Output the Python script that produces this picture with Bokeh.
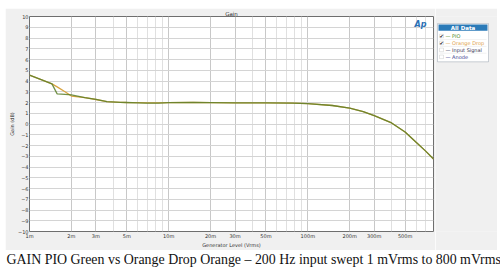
from bokeh.plotting import figure
from bokeh.layouts import column, row
from bokeh.models import (FixedTicker, Label, BoxAnnotation, Range1d,
                          CustomJSTickFormatter)
from bokeh.embed import file_html
from bokeh.resources import INLINE

# ---- data (generator level in mVrms, gain in dB) ----
level_mV = [1, 1.2, 1.45, 1.58, 1.8, 2, 2.5, 3, 3.6, 4.5, 5, 6, 7, 8.5, 10,
            15, 20, 30, 50, 78, 100, 150, 200, 250, 300, 400, 500, 600, 700, 800]
gain_pio = [4.55, 4.15, 3.73, 2.8, 2.75, 2.7, 2.45, 2.3, 2.08, 2.02, 2.0, 1.97, 1.94, 1.95, 1.99,
            2.0, 1.99, 1.97, 1.96, 1.95, 1.9, 1.72, 1.48, 1.15, 0.78, 0.1, -0.75, -1.7, -2.5, -3.25]
gain_od = [4.55, 4.15, 3.73, 3.45, 3.0, 2.6, 2.45, 2.28, 2.08, 2.02, 2.0, 1.98, 1.96, 1.96, 1.98,
           2.0, 1.99, 1.97, 1.96, 1.95, 1.9, 1.72, 1.48, 1.15, 0.78, 0.1, -0.75, -1.7, -2.5, -3.25]

x_major = [1, 2, 3, 5, 10, 20, 30, 50, 100, 200, 300, 500]
x_minor = [4, 6, 7, 8, 9, 40, 60, 70, 80, 90, 400, 600, 700, 800]
y_ticks = list(range(-10, 11))

legend_names = ["PIO", "Orange Drop", "Input Signal", "Anode"]
legend_colors = ["#4f8a2b", "#e0a04a", "#333355", "#3a3a8c"]
legend_checked = [True, True, False, False]

caption = "GAIN PIO Green vs Orange Drop Orange \u2013 200 Hz input swept 1 mVrms to 800 mVrms"

GREEN = "#5a7f2a"
ORANGE = "#d9a441"
PANEL = "#f0f0f0"
FONT = "DejaVu Sans"

# ---------------- main chart ----------------
p = figure(width=430, height=242, x_axis_type="log", output_backend="svg",
           toolbar_location=None, x_range=Range1d(1, 800), y_range=Range1d(-10, 10),
           min_border_left=17, min_border_right=2, min_border_top=8, min_border_bottom=14)
p.border_fill_color = PANEL
p.background_fill_color = "white"
p.outline_line_color = "#6e6e6e"
p.outline_line_width = 1

p.title.text = "Gain"
p.title.align = "center"
p.title.text_font = FONT
p.title.text_font_size = "5.5px"
p.title.text_font_style = "normal"
p.title.text_color = "#333333"
p.title.standoff = 0
p.title.offset = 0

p.xaxis.ticker = FixedTicker(ticks=x_major, minor_ticks=x_minor)
p.xaxis.formatter = CustomJSTickFormatter(code="return tick + 'm';")
p.yaxis.ticker = FixedTicker(ticks=y_ticks)
for ax in (p.xaxis[0], p.yaxis[0]):
    ax.axis_line_color = None
    ax.major_tick_line_color = None
    ax.minor_tick_line_color = None
    ax.major_tick_out = 0
    ax.minor_tick_out = 0
    ax.major_label_text_font = FONT
    ax.major_label_text_font_size = "5px"
    ax.major_label_text_color = "#333333"
    ax.major_label_standoff = 1
    ax.axis_label_text_font = FONT
    ax.axis_label_text_font_size = "5px"
    ax.axis_label_text_font_style = "normal"
    ax.axis_label_text_color = "#333333"
    ax.axis_label_standoff = 0
p.xaxis.axis_label = "Generator Level (Vrms)"
p.yaxis.axis_label = "Gain (dB)"

p.xgrid.grid_line_color = "#c8c8c8"
p.xgrid.minor_grid_line_color = "#e0e0e0"
p.ygrid.grid_line_color = "#d4d4d4"

p.line(level_mV, gain_od, line_color=ORANGE, line_width=1.3)
p.line(level_mV, gain_pio, line_color=GREEN, line_width=1.3, line_alpha=0.85)

p.add_layout(Label(x=415, y=16, x_units="canvas", y_units="canvas", text="Ap",
                   text_font=FONT, text_font_size="8px", text_color="#2a6fb5",
                   text_font_style="bold italic", text_align="center", text_baseline="middle"))

# ---------------- legend panel (page pixel coordinates) ----------------
lf = figure(width=62, height=242, output_backend="svg", toolbar_location=None,
            x_range=Range1d(435, 497), y_range=Range1d(250, 8),
            min_border=0, min_border_left=0, min_border_right=0,
            min_border_top=0, min_border_bottom=0)
lf.axis.visible = False
lf.grid.visible = False
lf.outline_line_color = None
lf.border_fill_color = PANEL
lf.background_fill_color = PANEL


def box(l, t, r, b, **kw):
    return BoxAnnotation(left=l, right=r, top=t, bottom=b, **kw)


def lab(x, y, text, **kw):
    kw.setdefault("text_font", FONT)
    return Label(x=x, y=y, text=text, **kw)


lf.add_layout(box(437, 16, 488, 59, fill_color="white", fill_alpha=1,
                  line_color="#5d6d80", line_width=1))
lf.add_layout(box(438, 17, 487, 24, fill_color="#2a7ab8", fill_alpha=1, line_color=None))
lf.add_layout(lab(462.5, 20.5, "All Data", text_font_size="5.5px", text_color="white",
                  text_font_style="bold", text_align="center", text_baseline="middle"))
for i, (name, col, chk) in enumerate(zip(legend_names, legend_colors, legend_checked)):
    yy = 30 + i * 7.8
    lf.add_layout(box(439, yy - 2, 443, yy + 2, fill_color="white", fill_alpha=1,
                      line_color="#777777", line_width=0.6))
    if chk:
        lf.add_layout(lab(441, yy, "\u2714", text_font_size="5px", text_color="#222222",
                          text_align="center", text_baseline="middle"))
    lf.add_layout(lab(445, yy, "\u2014 " + name, text_font_size="5px", text_color=col,
                      text_align="left", text_baseline="middle"))
    if i < 3:
        lf.add_layout(box(439, yy + 3.8, 486, yy + 3.8, fill_alpha=0, line_color="#aaaaaa",
                          line_width=0.5, line_dash="1 1"))

# ---------------- caption ----------------
cap = figure(width=500, height=17, output_backend="svg", toolbar_location=None,
             x_range=Range1d(0, 500), y_range=Range1d(267, 250),
             min_border=0, min_border_left=0, min_border_right=0,
             min_border_top=0, min_border_bottom=0)
cap.axis.visible = False
cap.grid.visible = False
cap.outline_line_color = None
cap.border_fill_color = "white"
cap.background_fill_color = "white"
cap.add_layout(Label(x=6, y=258.5, text=caption, text_font="Liberation Serif",
                     text_font_size="13.9px", text_color="#111111",
                     text_align="left", text_baseline="middle"))

layout = column(row(p, lf, margin=(8, 3, 0, 5), spacing=0), cap, spacing=0)
open("out.html", "w").write(file_html(layout, INLINE))
